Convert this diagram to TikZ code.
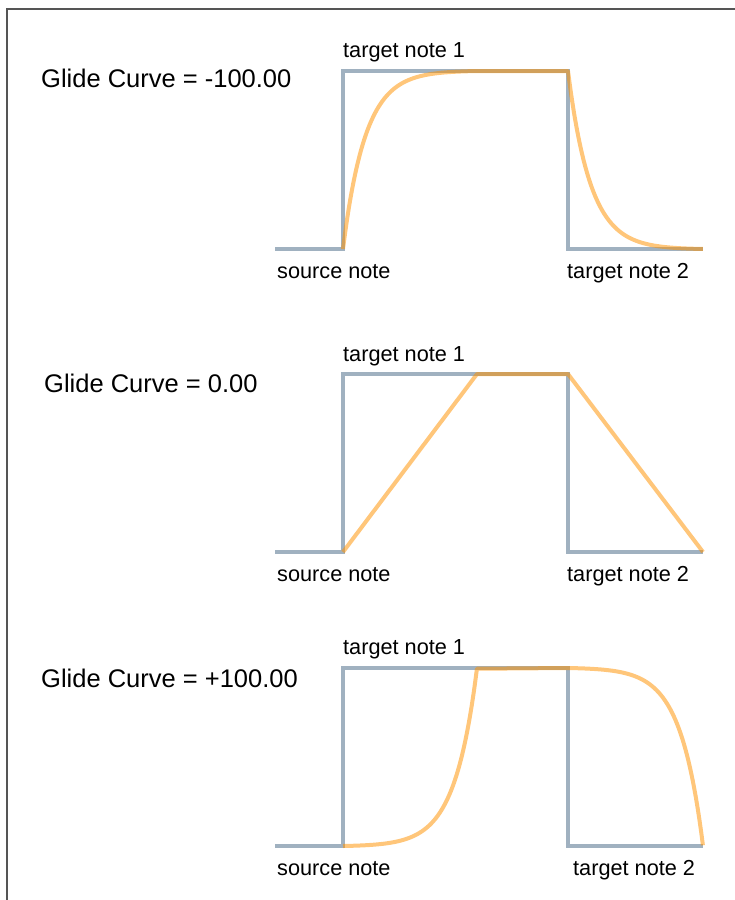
\documentclass[tikz,border=0pt]{standalone}
\usepackage{fontspec}
\setmainfont{Liberation Sans}
\definecolor{stepgrey}{RGB}{160,177,192}
\definecolor{glideorange}{RGB}{255,145,0}
\definecolor{framegrey}{RGB}{85,85,85}
\tikzset{
  steppath/.style={draw=stepgrey, line width=4pt, line join=miter},
  glidepath/.style={draw=glideorange, draw opacity=0.52, line width=4pt, line join=round},
  notelabel/.style={anchor=base west, inner sep=0pt, font=\fontsize{21.7}{26}\selectfont},
  curvelabel/.style={anchor=base west, inner sep=0pt, font=\fontsize{25.5}{30}\selectfont},
}
\begin{document}
\begin{tikzpicture}[x=1pt,y=-1pt]
\useasboundingbox (0,0) rectangle (735,900);
\draw[framegrey, line width=1.3pt] (7,900) -- (7,9) -- (735,9);

% Panel 1 : Glide Curve = -100.00
\coordinate (a0) at (275,249);
\coordinate (a1) at (343,249);
\coordinate (a2) at (343,71);
\coordinate (a3) at (568,71);
\coordinate (a4) at (568,249);
\coordinate (a5) at (703,249);
\coordinate (a6) at (477,71);
\draw[steppath] (a0) -- (a1) -- (a2) -- (a3) -- (a4) -- (a5);
\draw[glidepath] plot[domain=0:1, samples=80, smooth] ({343+134*\x},{249-178*((1-exp(-6*\x))/0.997521)})
  -- (a3)
  -- plot[domain=0:1, samples=80, smooth] ({568+135*\x},{71+178*((1-exp(-6*\x))/0.997521)});
\node[curvelabel] (c1) at (41,87) {Glide Curve = -100.00};
\node[notelabel] (t1a) at (343,57) {target note 1};
\node[notelabel] (s1) at (277,278) {source note};
\node[notelabel] (t1b) at (567,278) {target note 2};

% Panel 2 : Glide Curve = 0.00
\coordinate (b0) at (275,552);
\coordinate (b1) at (343,552);
\coordinate (b2) at (343,374);
\coordinate (b3) at (568,374);
\coordinate (b4) at (568,552);
\coordinate (b5) at (703,552);
\coordinate (b6) at (477,374);
\draw[steppath] (b0) -- (b1) -- (b2) -- (b3) -- (b4) -- (b5);
\draw[glidepath] (b1) -- (b6) -- (b3) -- (b5);
\node[curvelabel] (c2) at (44,392) {Glide Curve = 0.00};
\node[notelabel] (t2a) at (343,361) {target note 1};
\node[notelabel] (s2) at (277,581) {source note};
\node[notelabel] (t2b) at (567,581) {target note 2};

% Panel 3 : Glide Curve = +100.00
\coordinate (d0) at (275,846);
\coordinate (d1) at (343,846);
\coordinate (d2) at (343,668);
\coordinate (d3) at (568,668);
\coordinate (d4) at (568,846);
\coordinate (d5) at (703,846);
\coordinate (d6) at (477,668);
\draw[steppath] (d0) -- (d1) -- (d2) -- (d3) -- (d4) -- (d5);
\draw[glidepath] plot[domain=0:1, samples=80, smooth] ({343+134*\x},{846-178*((exp(6*\x)-1)/402.4288)})
  -- (d3)
  -- plot[domain=0:1, samples=80, smooth] ({568+135*\x},{668+178*((exp(6*\x)-1)/402.4288)});
\node[curvelabel] (c3) at (41,687) {Glide Curve = +100.00};
\node[notelabel] (t3a) at (343,654) {target note 1};
\node[notelabel] (s3) at (277,875) {source note};
\node[notelabel] (t3b) at (573,875) {target note 2};
\end{tikzpicture}
\end{document}
